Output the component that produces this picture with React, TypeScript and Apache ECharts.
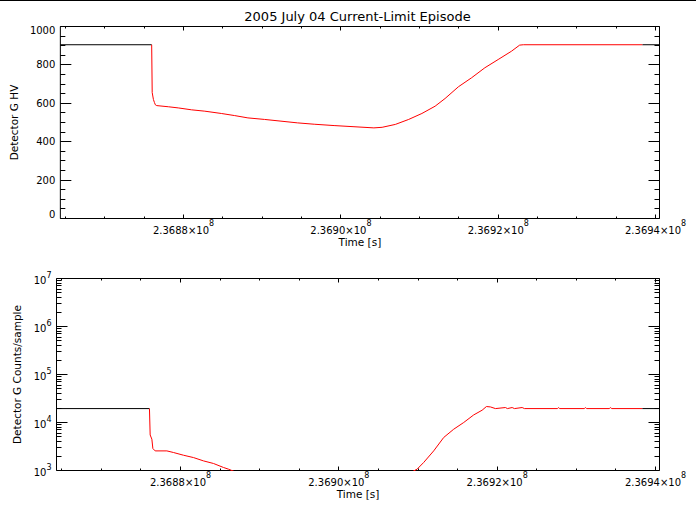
import React, { useEffect, useRef } from 'react';
import * as echarts from 'echarts';

const TITLE = '2005 July 04 Current-Limit Episode';
const X_NAME = 'Time [s]';
const HV_NAME = 'Detector G HV';
const CNT_NAME = 'Detector G Counts/sample';
const FONT = 'DejaVu Sans';

const X_MIN = 236864340;
const X_MAX = 236940500;

const xMajorTicks = [236880000, 236900000, 236920000, 236940000];
const xMinorTicks = [
  236865000, 236870000, 236875000, 236885000, 236890000, 236895000,
  236905000, 236910000, 236915000, 236925000, 236930000, 236935000,
];
const hvMajorTicks = [0, 200, 400, 600, 800, 1000];
const hvMinorTicks = [50, 100, 150, 250, 300, 350, 450, 500, 550, 650, 700, 750, 850, 900, 950];
const cntMajorTicks = [1e3, 1e4, 1e5, 1e6, 1e7];
const cntMinorMultipliers = [2, 3, 4, 5, 6, 7, 8, 9];

// Detector G HV
const hvTime = [
  236864340, 236875950, 236876015, 236876170, 236876300, 236876420, 236876590,
  236878066, 236879330, 236881011, 236882705, 236884803, 236886497, 236888178,
  236890289, 236892387, 236894498, 236896609, 236899137, 236901665, 236904193,
  236905243, 236906923, 236908617, 236910298, 236911979, 236913243, 236914937,
  236916618, 236918299, 236919993, 236921674, 236922723, 236923200, 236938321,
  236940500,
];
const hvValue = [
  905, 905, 656, 620, 604, 592, 588,
  582, 576, 566, 559, 547, 536, 524,
  516, 507, 498, 491, 484, 478, 472,
  475, 490, 516, 547, 585, 625, 686,
  733, 785, 828, 871, 903, 905, 905,
  905,
];
const hvRedStart = 236875950;
const hvRedEnd = 236938321;

// Detector G Counts/sample
const cntTime = [
  236864340, 236876082, 236876170, 236876385, 236876511, 236876802, 236878281,
  236879115, 236880379, 236881643, 236882907, 236884171, 236885435, 236886067,
  236887546, 236892602, 236898922, 236905243, 236908403, 236909881, 236910715,
  236911979, 236913243, 236914507, 236915771, 236917035, 236918097, 236918641,
  236919146, 236919778, 236921042, 236921295, 236921889, 236922180, 236923153,
  236923444, 236927600, 236927741, 236927900, 236931000, 236931153, 236931300,
  236934150, 236934313, 236934470, 236938321, 236940500,
];
const cntValue = [
  19500, 19500, 5500, 4490, 2870, 2560, 2560,
  2370, 2080, 1860, 1585, 1400, 1155, 1065,
  850, 600, 450, 500, 800, 1065, 1470,
  2560, 4870, 7240, 10000, 14390, 18030, 21500,
  21100, 19500, 20500, 19500, 20500, 19500, 20500,
  19500, 19500, 20400, 19500, 19500, 20400, 19500,
  19500, 20400, 19500, 19500, 19500,
];
const cntRedStart = 236876082;
const cntRedEnd = 236938321;

function pairs(t: number[], v: number[], lo: number, hi: number) {
  const out: number[][] = [];
  for (let i = 0; i < t.length; i++) {
    if (t[i] >= lo && t[i] <= hi) out.push([t[i], v[i]]);
  }
  return out;
}

function tickData(yRef: number, xRef: number, yMajor: number[], yMinor: number[]) {
  const d: number[][] = [];
  xMajorTicks.forEach((x) => d.push([x, yRef, 4, 0]));
  xMinorTicks.forEach((x) => d.push([x, yRef, 2, 0]));
  yMajor.forEach((y) => d.push([xRef, y, 11, 1]));
  yMinor.forEach((y) => d.push([xRef, y, 5, 1]));
  return d;
}

const tickStyle = { stroke: '#000', lineWidth: 1 };
function renderTick(params: any, api: any) {
  const cs = params.coordSys;
  const len = api.value(2);
  const kind = api.value(3);
  const p = api.coord([api.value(0), api.value(1)]);
  if (kind === 0) {
    const x = Math.round(p[0] - 0.5) + 0.5;
    const b = cs.y + cs.height;
    return {
      type: 'group',
      children: [
        { type: 'line', shape: { x1: x, y1: b, x2: x, y2: b - len }, style: tickStyle },
        { type: 'line', shape: { x1: x, y1: cs.y, x2: x, y2: cs.y + len }, style: tickStyle },
      ],
    };
  }
  const y = Math.round(p[1] - 0.5) + 0.5;
  const r = cs.x + cs.width;
  return {
    type: 'group',
    children: [
      { type: 'line', shape: { x1: cs.x, y1: y, x2: cs.x + len, y2: y }, style: tickStyle },
      { type: 'line', shape: { x1: r, y1: y, x2: r - len, y2: y }, style: tickStyle },
    ],
  };
}

function xLabel(v: number) {
  if (Math.abs(v / 20000 - Math.round(v / 20000)) > 1e-6) return '';
  return '{m|' + (v / 1e8).toFixed(4) + '\u00d710}{s|8}';
}

const xRich = {
  m: { fontSize: 10, fontFamily: FONT, color: '#000', verticalAlign: 'bottom' },
  s: { fontSize: 8, fontFamily: FONT, color: '#000', verticalAlign: 'top' },
};

export default function App() {
  const ref = useRef<HTMLDivElement>(null);
  useEffect(() => {
    if (!ref.current) return;
    const chart = echarts.init(ref.current, undefined, { renderer: 'svg' });
    const cntMinorTicks: number[] = [];
    cntMajorTicks.slice(0, -1).forEach((d) => cntMinorMultipliers.forEach((k) => cntMinorTicks.push(k * d)));

    const xAxisBase = (gridIndex: number) => ({
      type: 'value',
      gridIndex,
      min: X_MIN,
      max: X_MAX,
      splitNumber: 4,
      name: X_NAME,
      nameLocation: 'middle',
      nameGap: 18,
      nameTextStyle: { fontSize: 10.5, fontFamily: FONT, color: '#000' },
      axisLine: { show: false },
      axisTick: { show: false },
      splitLine: { show: false },
      axisLabel: {
        formatter: xLabel,
        rich: xRich,
        lineHeight: 16,
        margin: 1,
        color: '#000',
        showMinLabel: false,
        showMaxLabel: true,
        hideOverlap: false,
      },
    });

    const option: any = {
      animation: false,
      backgroundColor: '#fff',
      graphic: [
        { type: 'rect', shape: { x: 0, y: 0, width: 696, height: 1 }, style: { fill: '#000' } },
        {
          type: 'text',
          x: 357.5,
          y: 16.5,
          style: {
            text: TITLE,
            align: 'center',
            verticalAlign: 'middle',
            fontSize: 13,
            fontFamily: FONT,
            fill: '#000',
          },
        },
      ],
      grid: [
        { left: 56.5, top: 26.5, width: 603, height: 192, show: true, borderColor: '#000', borderWidth: 1, backgroundColor: 'transparent' },
        { left: 56.5, top: 278.5, width: 603, height: 192, show: true, borderColor: '#000', borderWidth: 1, backgroundColor: 'transparent' },
      ],
      xAxis: [xAxisBase(0), xAxisBase(1)],
      yAxis: [
        {
          type: 'value',
          gridIndex: 0,
          min: 0,
          max: 1000,
          splitNumber: 5,
          name: HV_NAME,
          nameLocation: 'middle',
          nameGap: 38,
          nameTextStyle: { fontSize: 10.5, fontFamily: FONT, color: '#000' },
          axisLine: { show: false },
          axisTick: { show: false },
          splitLine: { show: false },
          axisLabel: {
            margin: 5,
            color: '#000',
            formatter: (v: number) => (v === 1000 ? '{dn|1000}' : v === 0 ? '{up|0}' : '{n|' + v + '}'),
            rich: {
              n: { fontSize: 10, fontFamily: FONT, color: '#000' },
              dn: { fontSize: 10, fontFamily: FONT, color: '#000', padding: [8, 0, 0, 0] },
              up: { fontSize: 10, fontFamily: FONT, color: '#000', padding: [0, 0, 8, 0] },
            },
          },
        },
        {
          type: 'log',
          logBase: 10,
          gridIndex: 1,
          min: 1e3,
          max: 1e7,
          name: CNT_NAME,
          nameLocation: 'middle',
          nameGap: 29,
          nameTextStyle: { fontSize: 10.5, fontFamily: FONT, color: '#000' },
          axisLine: { show: false },
          axisTick: { show: false },
          splitLine: { show: false },
          minorTick: { show: false },
          axisLabel: {
            margin: 5,
            color: '#000',
            lineHeight: 14,
            formatter: (v: number) => '{m|10}{s|' + Math.round(Math.log10(v)) + '}',
            rich: xRich,
          },
        },
      ],
      series: [
        {
          type: 'custom', xAxisIndex: 0, yAxisIndex: 0, silent: true, z: 5,
          encode: { x: 0, y: 1 }, renderItem: renderTick,
          data: tickData(0, X_MIN, hvMajorTicks, hvMinorTicks),
        },
        {
          type: 'custom', xAxisIndex: 1, yAxisIndex: 1, silent: true, z: 5,
          encode: { x: 0, y: 1 }, renderItem: renderTick,
          data: tickData(1e3, X_MIN, cntMajorTicks, cntMinorTicks),
        },
        ...[
          [0, pairs(hvTime, hvValue, -Infinity, hvRedStart), '#000'],
          [0, pairs(hvTime, hvValue, hvRedEnd, Infinity), '#000'],
          [0, pairs(hvTime, hvValue, hvRedStart, hvRedEnd), '#ff0000'],
          [1, pairs(cntTime, cntValue, -Infinity, cntRedStart), '#000'],
          [1, pairs(cntTime, cntValue, cntRedEnd, Infinity), '#000'],
          [1, pairs(cntTime, cntValue, cntRedStart, cntRedEnd), '#ff0000'],
        ].map(([g, data, color]: any) => ({
          type: 'line',
          xAxisIndex: g,
          yAxisIndex: g,
          data,
          showSymbol: false,
          symbol: 'none',
          clip: true,
          silent: true,
          lineStyle: { color, width: 1 },
          itemStyle: { color },
        })),
      ],
    };
    chart.setOption(option);
    return () => chart.dispose();
  }, []);
  return <div ref={ref} style={{ position: 'absolute', left: 0, top: 0, width: 696, height: 511 }} />;
}
